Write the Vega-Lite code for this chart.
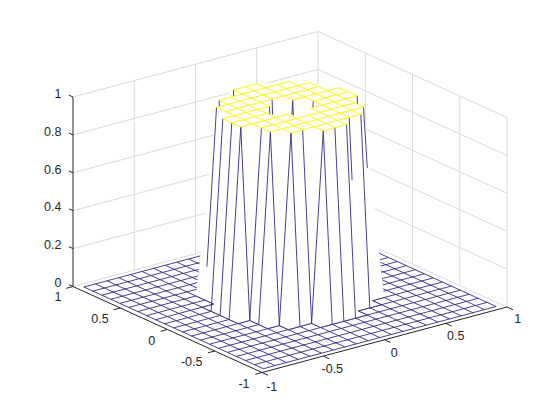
{"$schema":"https://vega.github.io/schema/vega-lite/v6.json","width":560,"height":420,"autosize":{"type":"fit","contains":"padding"},"padding":0,"background":"white","view":{"stroke":null},
"resolve":{"scale":{"x":"shared","y":"shared"}},
"encoding":{"x":{"field":"x","type":"quantitative","scale":{"domain":[0,560],"nice":false,"zero":false},"axis":null},"y":{"field":"y","type":"quantitative","scale":{"domain":[420,0],"nice":false,"zero":false},"axis":null}},
"layer":[
{"data":{"name":"grid","values":[
{"x":73,"y":286.5,"x2":318,"y2":221},{"x":318,"y":221,"x2":507,"y2":307},
{"x":73,"y":248.6,"x2":318,"y2":183.1},{"x":318,"y":183.1,"x2":507,"y2":269.1},
{"x":73,"y":210.7,"x2":318,"y2":145.2},{"x":318,"y":145.2,"x2":507,"y2":231.2},
{"x":73,"y":172.8,"x2":318,"y2":107.3},{"x":318,"y":107.3,"x2":507,"y2":193.3},
{"x":73,"y":134.9,"x2":318,"y2":69.4},{"x":318,"y":69.4,"x2":507,"y2":155.4},
{"x":73,"y":97,"x2":318,"y2":31.5},{"x":318,"y":31.5,"x2":507,"y2":117.5},
{"x":134.25,"y":270.1,"x2":134.25,"y2":80.6},{"x":195.5,"y":253.75,"x2":195.5,"y2":64.25},{"x":256.75,"y":237.4,"x2":256.75,"y2":47.9},{"x":318,"y":221,"x2":318,"y2":31.5},
{"x":365.25,"y":242.5,"x2":365.25,"y2":53},{"x":412.5,"y":264,"x2":412.5,"y2":74.5},{"x":459.75,"y":285.5,"x2":459.75,"y2":96},{"x":507,"y":307,"x2":507,"y2":117.5}
]},"mark":{"type":"rule","stroke":"#dadada","strokeWidth":1},"encoding":{"x2":{"field":"x2"},"y2":{"field":"y2"}}},
{"data":{"name":"box","values":[
{"x":73,"y":97,"x2":73,"y2":286.5},{"x":73,"y":286.5,"x2":262,"y2":372.5},{"x":262,"y":372.5,"x2":507,"y2":307},
{"x":73,"y":97,"x2":69,"y2":95.2},{"x":73,"y":134.9,"x2":69,"y2":133.1},{"x":73,"y":172.8,"x2":69,"y2":171},{"x":73,"y":210.7,"x2":69,"y2":208.9},{"x":73,"y":248.6,"x2":69,"y2":246.8},{"x":73,"y":286.5,"x2":69,"y2":284.7},
{"x":73,"y":286.5,"x2":66.2,"y2":288.3},{"x":120.25,"y":308,"x2":113.45,"y2":309.8},{"x":167.5,"y":329.5,"x2":160.7,"y2":331.3},{"x":214.75,"y":351,"x2":207.95,"y2":352.8},{"x":262,"y":372.5,"x2":255.2,"y2":374.3},
{"x":262,"y":372.5,"x2":268,"y2":375.2},{"x":323.25,"y":356.1,"x2":329.25,"y2":358.8},{"x":384.5,"y":339.75,"x2":390.5,"y2":342.45},{"x":445.75,"y":323.4,"x2":451.75,"y2":326.1},{"x":507,"y":307,"x2":513,"y2":309.7}
]},"mark":{"type":"rule","stroke":"#262626","strokeWidth":1},"encoding":{"x2":{"field":"x2"},"y2":{"field":"y2"}}},
{"data":{"name":"floor","values":[
{"x":263.40,"y":368.71,"x2":496.15,"y2":306.49},{"x":254.42,"y":364.63,"x2":487.17,"y2":302.41},{"x":245.45,"y":360.54,"x2":478.20,"y2":298.32},{"x":236.47,"y":356.46,"x2":469.22,"y2":294.24},{"x":227.49,"y":352.37,"x2":460.24,"y2":290.15},{"x":218.51,"y":348.29,"x2":451.26,"y2":286.07},{"x":209.54,"y":344.20,"x2":442.29,"y2":281.98},{"x":200.56,"y":340.12,"x2":433.31,"y2":277.90},{"x":191.58,"y":336.03,"x2":424.33,"y2":273.81},{"x":182.60,"y":331.95,"x2":415.35,"y2":269.73},{"x":173.63,"y":327.86,"x2":406.38,"y2":265.64},{"x":164.65,"y":323.78,"x2":397.40,"y2":261.56},{"x":155.67,"y":319.69,"x2":388.42,"y2":257.47},{"x":146.69,"y":315.61,"x2":379.44,"y2":253.39},{"x":137.72,"y":311.52,"x2":370.47,"y2":249.30},{"x":128.74,"y":307.44,"x2":361.49,"y2":245.22},{"x":119.76,"y":303.35,"x2":352.51,"y2":241.13},{"x":110.78,"y":299.27,"x2":343.53,"y2":237.05},{"x":101.81,"y":295.18,"x2":334.56,"y2":232.96},{"x":92.83,"y":291.10,"x2":325.58,"y2":228.88},{"x":83.85,"y":287.01,"x2":316.60,"y2":224.79},
{"x":263.40,"y":368.71,"x2":83.85,"y2":287.01},{"x":275.04,"y":365.60,"x2":95.49,"y2":283.90},{"x":286.68,"y":362.49,"x2":107.13,"y2":280.79},{"x":298.31,"y":359.38,"x2":118.76,"y2":277.68},{"x":309.95,"y":356.27,"x2":130.40,"y2":274.57},{"x":321.59,"y":353.16,"x2":142.04,"y2":271.46},{"x":333.23,"y":350.04,"x2":153.68,"y2":268.34},{"x":344.86,"y":346.93,"x2":165.31,"y2":265.23},{"x":356.50,"y":343.82,"x2":176.95,"y2":262.12},{"x":368.14,"y":340.71,"x2":188.59,"y2":259.01},{"x":379.78,"y":337.60,"x2":200.23,"y2":255.90},{"x":391.41,"y":334.49,"x2":211.86,"y2":252.79},{"x":403.05,"y":331.38,"x2":223.50,"y2":249.68},{"x":414.69,"y":328.27,"x2":235.14,"y2":246.57},{"x":426.33,"y":325.16,"x2":246.78,"y2":243.46},{"x":437.96,"y":322.05,"x2":258.41,"y2":240.35},{"x":449.60,"y":318.93,"x2":270.05,"y2":237.23},{"x":461.24,"y":315.82,"x2":281.69,"y2":234.12},{"x":472.88,"y":312.71,"x2":293.33,"y2":231.01},{"x":484.51,"y":309.60,"x2":304.96,"y2":227.90},{"x":496.15,"y":306.49,"x2":316.60,"y2":224.79}
]},"mark":{"type":"rule","stroke":"#352A87","strokeWidth":0.9},"encoding":{"x2":{"field":"x2"},"y2":{"field":"y2"}}},
{"data":{"name":"tower","values":[
{"i":0,"x":216.52,"y":107.43},{"i":1,"x":219.18,"y":100.24},{"i":2,"x":233.47,"y":89.94},{"i":3,"x":256.75,"y":83.72},{"i":4,"x":289.0,"y":81.58},{"i":5,"x":309.62,"y":82.56},{"i":6,"x":339.2,"y":87.6},{"i":7,"x":357.17,"y":95.78},{"i":8,"x":363.48,"y":107.07},
{"i":9,"x":384.09,"y":297.54},{"i":10,"x":372.46,"y":300.65},{"i":11,"x":381.43,"y":304.73},{"i":12,"x":369.8,"y":307.84},{"i":13,"x":358.16,"y":310.95},{"i":14,"x":367.14,"y":315.04},{"i":15,"x":355.5,"y":318.15},{"i":16,"x":343.87,"y":321.26},{"i":17,"x":332.23,"y":324.37},{"i":18,"x":320.59,"y":327.49},{"i":19,"x":311.61,"y":323.4},{"i":20,"x":299.98,"y":326.51},{"i":21,"x":288.34,"y":329.62},{"i":22,"x":279.36,"y":325.54},{"i":23,"x":267.72,"y":328.65},{"i":24,"x":258.74,"y":324.56},{"i":25,"x":249.77,"y":320.48},{"i":26,"x":238.13,"y":323.59},{"i":27,"x":229.15,"y":319.5},{"i":28,"x":220.17,"y":315.42},{"i":29,"x":211.2,"y":311.33},{"i":30,"x":202.2,"y":307.25},{"i":31,"x":213.86,"y":304.14},{"i":32,"x":204.88,"y":300.05},{"i":33,"x":195.9,"y":295.97},{"i":34,"x":216.52,"y":107.43}
]},"mark":{"type":"line","fill":"white","stroke":null,"strokeWidth":0,"interpolate":"linear"},"encoding":{"order":{"field":"i","type":"quantitative"}}},
{"data":{"name":"ring","values":[
{"x":195.9,"y":295.97,"x2":204.88,"y2":300.05},{"x":204.88,"y":300.05,"x2":213.86,"y2":304.14},{"x":213.86,"y":304.14,"x2":202.2,"y2":307.25},{"x":202.2,"y":307.25,"x2":238.13,"y2":323.59},{"x":238.13,"y":323.59,"x2":249.77,"y2":320.48},{"x":249.77,"y":320.48,"x2":267.72,"y2":328.65},{"x":267.72,"y":328.65,"x2":279.36,"y2":325.54},{"x":279.36,"y":325.54,"x2":288.34,"y2":329.62},{"x":288.34,"y":329.62,"x2":311.61,"y2":323.4},{"x":311.61,"y":323.4,"x2":320.59,"y2":327.49},{"x":320.59,"y":327.49,"x2":367.14,"y2":315.04},{"x":367.14,"y":315.04,"x2":358.16,"y2":310.95},{"x":358.16,"y":310.95,"x2":381.43,"y2":304.73},{"x":381.43,"y":304.73,"x2":372.46,"y2":300.65},{"x":372.46,"y":300.65,"x2":384.09,"y2":297.54},
{"x":216.52,"y":107.43,"x2":206.9,"y2":266.7},{"x":222.83,"y":118.72,"x2":211.2,"y2":311.33},{"x":231.81,"y":122.81,"x2":220.17,"y2":315.42},{"x":240.79,"y":126.9,"x2":229.15,"y2":319.5},{"x":240.79,"y":126.9,"x2":249.77,"y2":320.48},{"x":261.41,"y":127.86,"x2":249.77,"y2":320.48},{"x":270.38,"y":131.95,"x2":258.74,"y2":324.56},{"x":270.38,"y":131.95,"x2":279.36,"y2":325.54},{"x":291.0,"y":132.92,"x2":279.36,"y2":325.54},{"x":291.0,"y":132.92,"x2":299.98,"y2":326.51},{"x":302.63,"y":129.81,"x2":311.61,"y2":323.4},{"x":323.26,"y":130.79,"x2":311.61,"y2":323.4},{"x":323.26,"y":130.79,"x2":332.23,"y2":324.37},{"x":334.89,"y":127.68,"x2":343.87,"y2":321.26},{"x":346.53,"y":124.57,"x2":355.5,"y2":318.15},{"x":349.19,"y":117.37,"x2":352.09,"y2":180},{"x":360.82,"y":114.26,"x2":369.8,"y2":307.84},{"x":363.48,"y":107.07,"x2":367.3,"y2":168},
{"x":233.47,"y":89.94,"x2":233.6,"y2":96},{"x":219.18,"y":100.24,"x2":219.4,"y2":106.7},{"x":357.17,"y":95.78,"x2":357.4,"y2":104.3},
{"x":272.05,"y":99.08,"x2":272.6,"y2":114.5},{"x":269.38,"y":106.28,"x2":269.9,"y2":114.5},{"x":292.66,"y":100.05,"x2":293.4,"y2":115.5},{"x":292.66,"y":100.05,"x2":291.9,"y2":115},{"x":313.28,"y":101.03,"x2":312.9,"y2":108}
]},"mark":{"type":"rule","stroke":"#352A87","strokeWidth":0.9},"encoding":{"x2":{"field":"x2"},"y2":{"field":"y2"}}},
{"data":{"name":"top","values":[
{"x":323.26,"y":130.79,"x2":346.53,"y2":124.57},{"x":291.0,"y":132.92,"x2":360.82,"y2":114.26},{"x":270.38,"y":131.95,"x2":363.48,"y2":107.07},{"x":261.41,"y":127.86,"x2":354.51,"y2":102.98},{"x":240.79,"y":126.9,"x2":287.34,"y2":114.45},{"x":310.62,"y":108.22,"x2":357.17,"y2":95.78},{"x":231.81,"y":122.81,"x2":266.73,"y2":113.47},{"x":313.28,"y":101.03,"x2":348.19,"y2":91.69},{"x":222.83,"y":118.72,"x2":269.38,"y2":106.28},{"x":292.66,"y":100.05,"x2":339.2,"y2":87.6},{"x":225.49,"y":111.52,"x2":318.6,"y2":86.64},{"x":216.52,"y":107.43,"x2":309.62,"y2":82.56},{"x":219.18,"y":100.24,"x2":289.0,"y2":81.58},{"x":233.47,"y":89.94,"x2":256.75,"y2":83.72},
{"x":240.79,"y":126.9,"x2":222.83,"y2":118.72},{"x":270.38,"y":131.95,"x2":216.52,"y2":107.43},{"x":291.0,"y":132.92,"x2":219.18,"y2":100.24},{"x":302.63,"y":129.81,"x2":230.81,"y2":97.13},{"x":323.26,"y":130.79,"x2":287.34,"y2":114.45},{"x":269.38,"y":106.28,"x2":233.47,"y2":89.94},{"x":334.89,"y":127.68,"x2":307.96,"y2":115.42},{"x":272.05,"y":99.08,"x2":245.11,"y2":86.83},{"x":346.53,"y":124.57,"x2":310.62,"y2":108.22},{"x":292.66,"y":100.05,"x2":256.75,"y2":83.72},{"x":349.19,"y":117.37,"x2":277.36,"y2":84.69},{"x":360.82,"y":114.26,"x2":289.0,"y2":81.58},{"x":363.48,"y":107.07,"x2":309.62,"y2":82.56},{"x":357.17,"y":95.78,"x2":339.2,"y2":87.6}
]},"mark":{"type":"rule","stroke":"#F9FB15","strokeWidth":1},"encoding":{"x2":{"field":"x2"},"y2":{"field":"y2"}}},
{"data":{"name":"labels","values":[
{"x":58,"y":93.5,"label":"1"},{"x":52.7,"y":131.5,"label":"0.8"},{"x":52.7,"y":169.5,"label":"0.6"},{"x":52.7,"y":207,"label":"0.4"},{"x":52.7,"y":245,"label":"0.2"},{"x":58,"y":282.5,"label":"0"},
{"x":58,"y":297,"label":"1"},{"x":100,"y":319,"label":"0.5"},{"x":151.7,"y":341,"label":"0"},{"x":191.7,"y":362.3,"label":"-0.5"},{"x":244,"y":384.3,"label":"-1"},
{"x":271.7,"y":386.7,"label":"-1"},{"x":332.3,"y":369.3,"label":"-0.5"},{"x":394.3,"y":353.3,"label":"0"},{"x":455.7,"y":336,"label":"0.5"},{"x":517.7,"y":319.3,"label":"1"}
]},"mark":{"type":"text","font":"Liberation Sans","fontSize":12.5,"fill":"#262626","align":"center","baseline":"middle"},"encoding":{"text":{"field":"label","type":"nominal"}}}
]}
